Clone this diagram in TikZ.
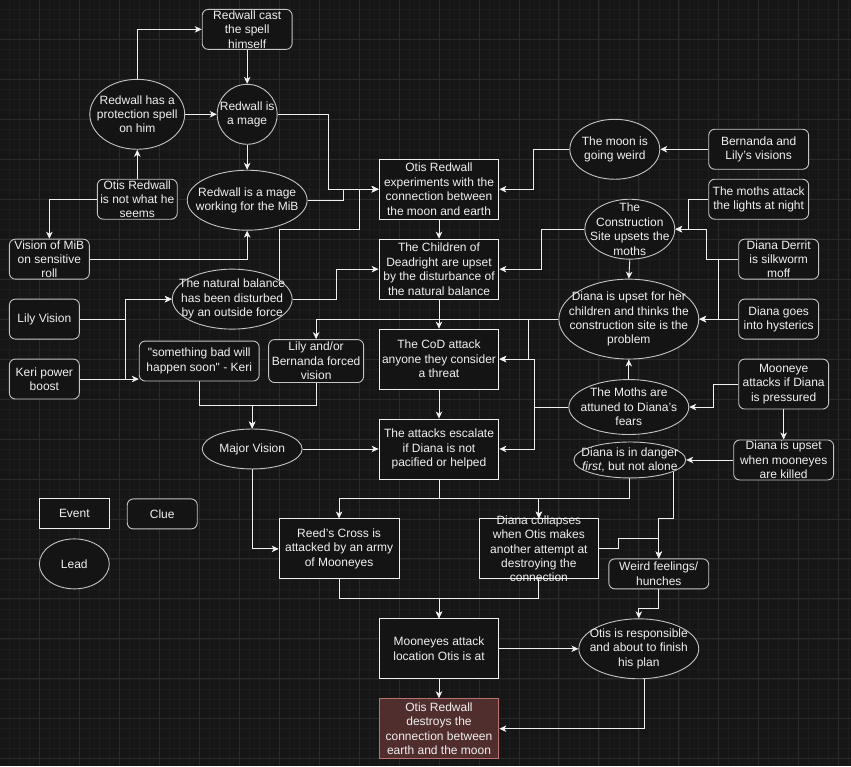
\documentclass[tikz,border=0pt]{standalone}
\usepackage{fontspec}
\setmainfont{Liberation Sans}
\usepackage{tikz}
\usetikzlibrary{arrows.meta,shapes.geometric}
\definecolor{canvas}{HTML}{161616}
\definecolor{gridfine}{HTML}{1D1D1D}
\definecolor{gridbold}{HTML}{2A2A2A}
\definecolor{chalk}{HTML}{F0F0F0}
\definecolor{ash}{HTML}{C4C4C4}
\definecolor{cardfill}{HTML}{141414}
\definecolor{wine}{HTML}{512E2E}
\definecolor{rose}{HTML}{B87272}

\begin{document}
\begin{tikzpicture}[
  x=1pt, y=-1pt,
  txt/.style={text=chalk, align=center, inner sep=0pt,
              font=\fontsize{12}{14.4}\selectfont},
  card/.style={fill=cardfill, inner sep=0pt, line width=0.9pt},
  event/.style={card, rectangle, draw=chalk},
  clue/.style={card, rectangle, rounded corners=6pt, draw=ash},
  lead/.style={card, ellipse, draw=ash},
  finale/.style={card, rectangle, fill=wine, draw=rose},
  link/.style={draw=chalk, line width=0.9pt,
               -{Stealth[length=7pt, width=6.5pt, inset=2pt]}},
  finegrid/.style={draw=gridfine, line width=0.5pt},
  boldgrid/.style={draw=gridbold, line width=0.8pt},
]

% canvas
\fill[canvas] (0,0) rectangle (851,766);
\foreach \gx in {9,19,...,849} \draw[finegrid] (\gx,0) -- (\gx,766);
\foreach \gy in {9,19,...,759} \draw[finegrid] (0,\gy) -- (851,\gy);
\foreach \gx in {39,79,...,839} \draw[boldgrid] (\gx,0) -- (\gx,766);
\foreach \gy in {39,79,...,759} \draw[boldgrid] (0,\gy) -- (851,\gy);
\useasboundingbox (0,0) rectangle (851,766);

% left cluster
\node[clue, minimum width=90, minimum height=40, label={[txt]center:{Redwall cast\\the spell\\himself}}] (cast) at (247,29) {};
\node[lead, minimum width=95, minimum height=70, label={[txt]center:{Redwall has a\\protection spell\\on him}}] (prot) at (137,114) {};
\node[lead, minimum width=60, minimum height=60, label={[txt]center:{Redwall is\\a mage}}] (mage) at (247,114) {};
\node[clue, minimum width=80, minimum height=40, label={[txt]center:{Otis Redwall\\is not what he\\seems}}] (otisnot) at (137,199) {};
\node[lead, minimum width=120, minimum height=60, label={[txt]center:{Redwall is a mage\\working for the MiB}}] (mib) at (247,200) {};
\node[clue, minimum width=80, minimum height=40, label={[txt]center:{Vision of MiB\\on sensitive\\roll}}] (vismib) at (49,259) {};
\node[clue, minimum width=70, minimum height=40, label={[txt]center:{Lily Vision}}] (lily) at (44,319) {};
\node[clue, minimum width=70, minimum height=40, label={[txt]center:{Keri power\\boost}}] (keri) at (44,379) {};
\node[lead, minimum width=120, minimum height=60, label={[txt]center:{The natural balance\\has been disturbed\\by an outside force}}] (natbal) at (232,299) {};
\node[clue, minimum width=120, minimum height=40, label={[txt]center:{\textquotedbl something bad will\\happen soon\textquotedbl{} - Keri}}] (bad) at (199,361) {};
\node[clue, minimum width=95, minimum height=43, label={[txt]center:{Lily and/or\\Bernanda forced\\vision}}] (forced) at (316,361) {};
\node[lead, minimum width=100, minimum height=40, label={[txt]center:{Major Vision}}] (major) at (252,449) {};

% main column
\node[event, minimum width=120, minimum height=60, label={[txt]center:{Otis Redwall\\experiments with the\\connection between\\the moon and earth}}] (exper) at (439,189) {};
\node[event, minimum width=120, minimum height=60, label={[txt]center:{The Children of\\Deadright are upset\\by the disturbance of\\the natural balance}}] (child) at (439,269) {};
\node[event, minimum width=120, minimum height=60, label={[txt]center:{The CoD attack\\anyone they consider\\a threat}}] (cod) at (439,359) {};
\node[event, minimum width=120, minimum height=60, label={[txt]center:{The attacks escalate\\if Diana is not\\pacified or helped}}] (esc) at (439,449) {};

% right cluster
\node[lead, minimum width=90, minimum height=60, label={[txt]center:{The moon is\\going weird}}] (moon) at (615,149) {};
\node[clue, minimum width=100, minimum height=40, label={[txt]center:{Bernanda and\\Lily's visions}}] (bervis) at (759,149) {};
\node[lead, minimum width=90, minimum height=60, label={[txt]center:{The\\Construction\\Site upsets the\\moths}}] (constr) at (630,229) {};
\node[clue, minimum width=100, minimum height=40, label={[txt]center:{The moths attack\\the lights at night}}] (lights) at (759,199) {};
\node[clue, minimum width=80, minimum height=40, label={[txt]center:{Diana Derrit\\is silkworm\\moff}}] (derrit) at (779,259) {};
\node[lead, minimum width=140, minimum height=80, label={[txt]center:{Diana is upset for her\\children and thinks the\\construction site is the\\problem}}] (dupset) at (629,319) {};
\node[clue, minimum width=80, minimum height=40, label={[txt]center:{Diana goes\\into hysterics}}] (hyst) at (779,319) {};
\node[lead, minimum width=120, minimum height=55, label={[txt]center:{The Moths are\\attuned to Diana's\\fears}}] (moths) at (629,407) {};
\node[clue, minimum width=90, minimum height=50, label={[txt]center:{Mooneye\\attacks if Diana\\is pressured}}] (mooneye) at (784,384) {};
\node[lead, minimum width=112, minimum height=36, label={[txt]center:{Diana is in danger\\\textit{first}, but not alone}}] (danger) at (630,460) {};
\node[clue, minimum width=100, minimum height=40, label={[txt]center:{Diana is upset\\when mooneyes\\are killed}}] (dkilled) at (784,460) {};

% bottom
\node[event, minimum width=120, minimum height=60, label={[txt]center:{Reed's Cross is\\attacked by an army\\of Mooneyes}}] (reed) at (339,549) {};
\node[event, minimum width=120, minimum height=60, label={[txt]center:{Diana collapses\\when Otis makes\\another attempt at\\destroying the\\connection}}] (coll) at (539,549) {};
\node[clue, minimum width=100, minimum height=30, label={[txt]center:{Weird feelings/\\hunches}}] (weird) at (659,574) {};
\node[event, minimum width=120, minimum height=60, label={[txt]center:{Mooneyes attack\\location Otis is at}}] (mloc) at (439,649) {};
\node[lead, minimum width=120, minimum height=60, label={[txt]center:{Otis is responsible\\and about to finish\\his plan}}] (resp) at (639,649) {};
\node[finale, minimum width=120, minimum height=60, label={[txt]center:{Otis Redwall\\destroys the\\connection between\\earth and the moon}}] (destroy) at (439,729) {};

% legend
\node[event, minimum width=70, minimum height=30, label={[txt]center:{Event}}] (ev) at (74,514) {};
\node[clue, minimum width=70, minimum height=30, label={[txt]center:{Clue}}] (cl) at (162,514) {};
\node[lead, minimum width=70, minimum height=50, label={[txt]center:{Lead}}] (ld) at (74,564) {};

% connectors
\draw[link] (prot.north) |- (cast.west);
\draw[link] (cast.south) -- (mage.north);
\draw[link] (prot.east) -- (mage.west);
\draw[link] (otisnot.north) -- (prot.south);
\draw[link] (otisnot.west) -| (vismib.north);
\draw[link] (mage.south) -- (mib.north);
\draw[link] (mage.east) -| (328,189) -- (exper.west);
\draw[link] (mib.east) -| (343,189) -- (exper.west);
\draw[link] (vismib.east) -| (mib.south);
\draw[link] (natbal.22) |- (359,229) |- (exper.west);
\draw[link] (natbal.east) -| (336,269) -- (child.west);
\draw[link] (lily.east) -| (125,299) -- (natbal.west);
\draw[link] (keri.east) -| (125,299) -- (natbal.west);
\draw[link] (keri.east) -- (bad.west |- keri.east);
\draw[link] (bad.south) |- (252,405) -- (major.north);
\draw[link] (forced.south) |- (252,405) -- (major.north);
\draw[link] (dupset.west) -| (forced.north);
\draw[link] (dupset.west) -| (529,359) -- (cod.east);
\draw[link] (moths.west) -| (535,359) -- (cod.east);
\draw[link] (moths.west) -| (535,449) -- (esc.east);
\draw[link] (moths.north) -- (dupset.south);
\draw[link] (constr.south) -- (dupset.north);
\draw[link] (constr.west) -| (542,269) -- (child.east);
\draw[link] (moon.west) -| (534,189) -- (exper.east);
\draw[link] (bervis.west) -- (moon.east);
\draw[link] (lights.west) -| (689,229) -- (constr.east);
\draw[link] (derrit.west) -| (707,229) -- (constr.east);
\draw[link] (derrit.west) -| (719,319) -- (dupset.east);
\draw[link] (hyst.west) -- (dupset.east);
\draw[link] (mooneye.west) -| (714,407) -- (moths.east);
\draw[link] (mooneye.south) -- (dkilled.north);
\draw[link] (dkilled.west) -- (danger.east);
\draw[link] (exper.south) -- (child.north);
\draw[link] (child.south) -- (cod.north);
\draw[link] (cod.south) -- (esc.north);
\draw[link] (major.east) -- (esc.west);
\draw[link] (major.south) |- (reed.west);
\draw[link] (esc.south) |- (339,499) -- (reed.north);
\draw[link] (esc.south) |- (539,499) -- (coll.north);
\draw[link] (danger.south) |- (539,499) -- (coll.north);
\draw[link] (danger.-15) |- (659,519) -- (weird.north);
\draw[link] (coll.east) -| (619,539) -| (weird.north);
\draw[link] (reed.south) |- (439,599) -- (mloc.north);
\draw[link] (coll.south) |- (439,599) -- (mloc.north);
\draw[link] (weird.south) |- (639,609) -- (resp.north);
\draw[link] (mloc.east) -- (resp.west);
\draw[link] (mloc.south) -- (destroy.north);
\draw[link] (resp.-80) |- (destroy.east);

\end{tikzpicture}
\end{document}
